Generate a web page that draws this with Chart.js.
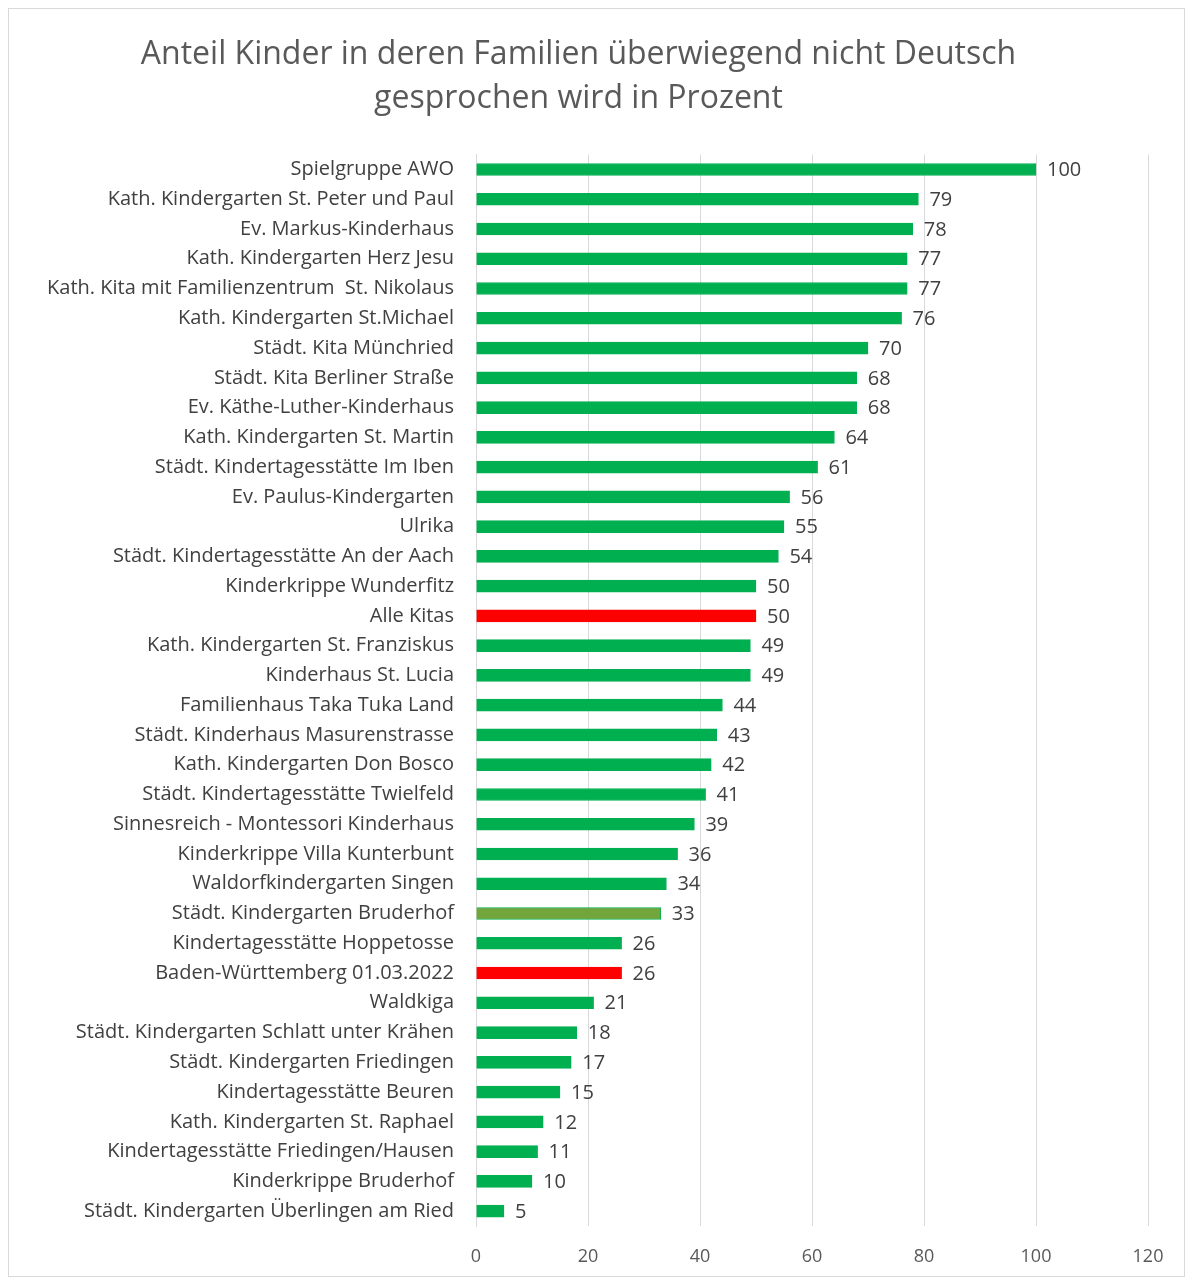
<!DOCTYPE html>
<html lang="de">
<head>
    <meta charset="UTF-8">
    <title>Anteil Kinder</title>
    <script src="https://cdn.jsdelivr.net/npm/chart.js"></script>
    <style>
        body { margin: 0; background: #fff; }
        #wrap { position: absolute; left: 8px; top: 8px; width: 1177px; height: 1269px; border: 1px solid #d9d9d9; box-sizing: border-box; }
    </style>
</head>
<body>
<div id="wrap"><canvas id="chart"></canvas></div>
<script>
var kitas = [
    'Spielgruppe AWO',
    'Kath. Kindergarten St. Peter und Paul',
    'Ev. Markus-Kinderhaus',
    'Kath. Kindergarten Herz Jesu',
    'Kath. Kita mit Familienzentrum  St. Nikolaus',
    'Kath. Kindergarten St.Michael',
    'Städt. Kita Münchried',
    'Städt. Kita Berliner Straße',
    'Ev. Käthe-Luther-Kinderhaus',
    'Kath. Kindergarten St. Martin',
    'Städt. Kindertagesstätte Im Iben',
    'Ev. Paulus-Kindergarten',
    'Ulrika',
    'Städt. Kindertagesstätte An der Aach',
    'Kinderkrippe Wunderfitz',
    'Alle Kitas',
    'Kath. Kindergarten St. Franziskus',
    'Kinderhaus St. Lucia',
    'Familienhaus Taka Tuka Land',
    'Städt. Kinderhaus Masurenstrasse',
    'Kath. Kindergarten Don Bosco',
    'Städt. Kindertagesstätte Twielfeld',
    'Sinnesreich - Montessori Kinderhaus',
    'Kinderkrippe Villa Kunterbunt',
    'Waldorfkindergarten Singen',
    'Städt. Kindergarten Bruderhof',
    'Kindertagesstätte Hoppetosse',
    'Baden-Württemberg 01.03.2022',
    'Waldkiga',
    'Städt. Kindergarten Schlatt unter Krähen',
    'Städt. Kindergarten Friedingen',
    'Kindertagesstätte Beuren',
    'Kath. Kindergarten St. Raphael',
    'Kindertagesstätte Friedingen/Hausen',
    'Kinderkrippe Bruderhof',
    'Städt. Kindergarten Überlingen am Ried'
];
var anteil = [100, 79, 78, 77, 77, 76, 70, 68, 68, 64, 61, 56, 55, 54, 50, 50, 49, 49,
              44, 43, 42, 41, 39, 36, 34, 33, 26, 26, 21, 18, 17, 15, 12, 11, 10, 5];
var vergleich = ['Alle Kitas', 'Baden-Württemberg 01.03.2022'];
var xTicks = [0, 20, 40, 60, 80, 100, 120];

var font = '"Open Sans", Lato, sans-serif';

var fill = kitas.map(function(k) {
    if (vergleich.indexOf(k) >= 0) return '#ff0000';
    if (k === 'Städt. Kindergarten Bruderhof') return '#72a63c';
    return '#00b050';
});
var border = kitas.map(function(k) {
    if (vergleich.indexOf(k) >= 0) return '#ff0000';
    return '#00b050';
});

// Werte rechts neben die Balken schreiben
var labelPlugin = {
    id: 'werte',
    afterDatasetsDraw: function(chart) {
        var ctx = chart.ctx;
        var meta = chart.getDatasetMeta(0);
        ctx.save();
        ctx.font = '20px ' + font;
        ctx.fillStyle = '#404040';
        ctx.textBaseline = 'middle';
        ctx.textAlign = 'left';
        meta.data.forEach(function(bar, i) {
            ctx.fillText(anteil[i], bar.x + 11, bar.y + 1);
        });
        ctx.restore();
    }
};

var ctx = document.getElementById('chart').getContext('2d');
var chart = new Chart(ctx, {
    type: 'bar',
    data: {
        labels: kitas,
        datasets: [{
            data: anteil,
            backgroundColor: fill,
            borderColor: border,
            borderWidth: 1,
            barThickness: 12
        }]
    },
    options: {
        indexAxis: 'y',
        responsive: true,
        maintainAspectRatio: false,
        animation: false,
        layout: { padding: { left: 0, right: 36, top: 0, bottom: 0 } },
        plugins: {
            legend: { display: false },
            tooltip: { enabled: false },
            title: {
                display: true,
                text: ['Anteil Kinder in deren Familien überwiegend nicht Deutsch', 'gesprochen wird in Prozent'],
                color: '#595959',
                font: { family: font, size: 32, weight: 'normal', lineHeight: 1.4 },
                padding: { top: 23, bottom: 33 }
            }
        },
        scales: {
            x: {
                min: 0,
                max: 120,
                afterBuildTicks: function(s) { s.ticks = xTicks.map(function(v) { return { value: v }; }); },
                afterFit: function(s) { s.height = 50; },
                grid: { color: '#d9d9d9', drawTicks: false },
                border: { display: false },
                ticks: { color: '#595959', padding: 20, font: { family: font, size: 18 } }
            },
            y: {
                afterFit: function(s) { s.width = 467; },
                grid: { display: false, drawTicks: false },
                border: { display: true, color: '#d9d9d9' },
                ticks: { color: '#404040', padding: 22, autoSkip: false, font: { family: font, size: 20 } }
            }
        }
    },
    plugins: [labelPlugin]
});
</script>
</body>
</html>
